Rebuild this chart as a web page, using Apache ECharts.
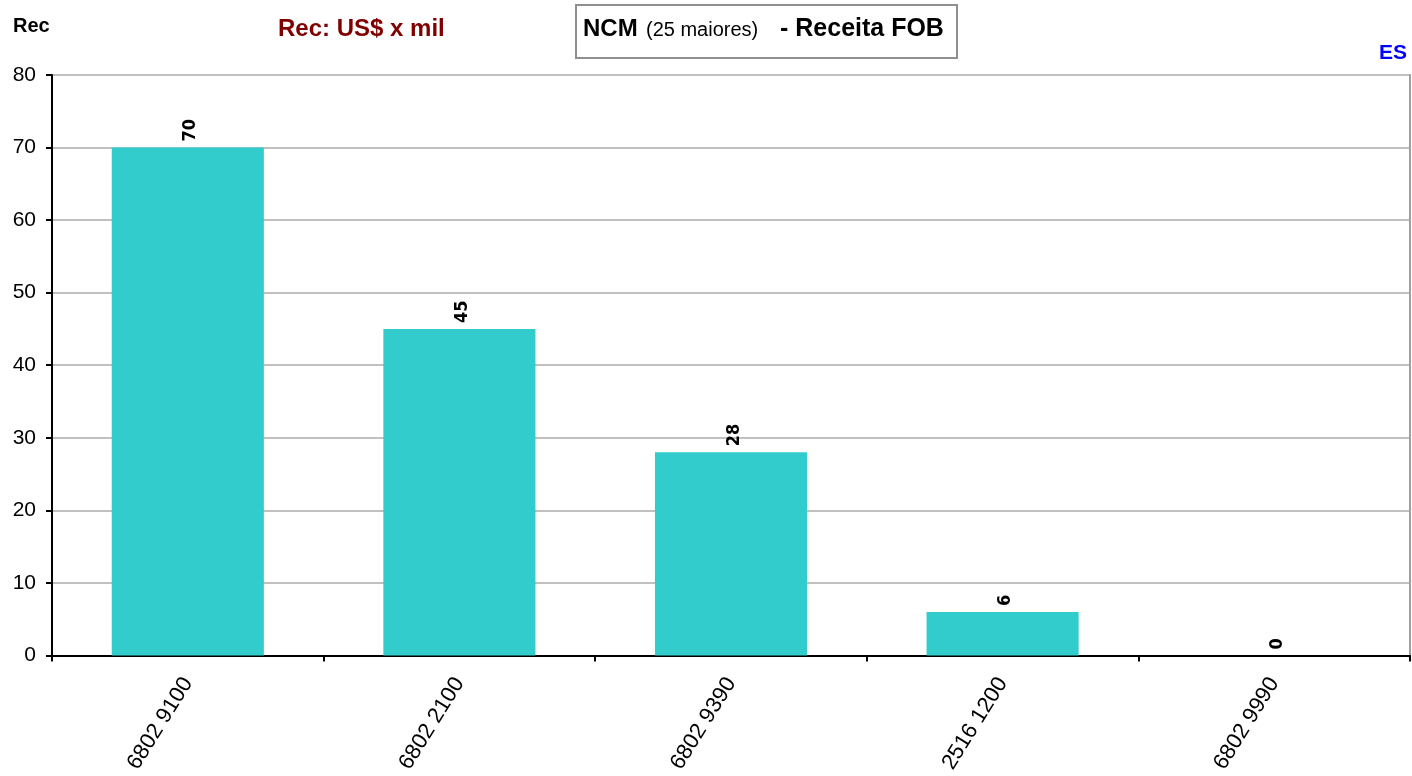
<!DOCTYPE html>
<html>
<head>
<meta charset="utf-8">
<script src="https://cdn.jsdelivr.net/npm/echarts@6/dist/echarts.min.js"></script>
<style>
  html, body { margin: 0; padding: 0; background: #fff; }
  #chart { width: 1412px; height: 776px; }
</style>
</head>
<body>
<div id="chart"></div>
<script>
// dados
const categories = ['6802 9100', '6802 2100', '6802 9390', '2516 1200', '6802 9990'];
const receita = [70, 45, 28, 6, 0];
const yTicks = [0, 10, 20, 30, 40, 50, 60, 70, 80];

const font = '"Liberation Sans", Arial, sans-serif';
const myChart = echarts.init(document.getElementById('chart'));

const option = {
    animation: false,
    grid: {
        left: 52,
        right: 2,
        top: 75,
        bottom: 119,
        containLabel: false
    },
    xAxis: {
        type: 'category',
        data: categories,
        axisLine: { lineStyle: { color: '#000', width: 2 } },
        axisTick: { show: true, inside: false, length: 6, lineStyle: { color: '#000', width: 2 } },
        axisLabel: {
            rotate: 58,
            margin: 24,
            color: '#000',
            fontFamily: font,
            fontSize: 22
        },
        splitLine: { show: false }
    },
    yAxis: [{
        type: 'value',
        min: yTicks[0],
        max: yTicks[yTicks.length - 1],
        interval: 10,
        axisLine: { show: true, lineStyle: { color: '#000', width: 2 } },
        axisTick: { show: true, length: 6, lineStyle: { color: '#000', width: 2 } },
        axisLabel: {
            color: '#000',
            fontFamily: font,
            fontSize: 21,
            margin: 16
        },
        splitLine: { show: true, lineStyle: { color: '#c0c0c0', width: 2 } }
    }, {
        type: 'value',
        position: 'right',
        min: 0,
        max: 80,
        interval: 10,
        axisLine: { show: true, lineStyle: { color: '#a0a0a0', width: 2 } },
        axisTick: { show: false },
        axisLabel: { show: false },
        splitLine: { show: false }
    }],
    series: [{
        type: 'bar',
        data: receita,
        barWidth: '56%',
        itemStyle: { color: '#33CCCC' },
        label: {
            show: true,
            position: 'top',
            rotate: 90,
            distance: 8,
            offset: [-2, 3],
            align: 'left',
            verticalAlign: 'middle',
            color: '#000',
            fontFamily: '"DejaVu Sans Condensed", "DejaVu Sans", sans-serif',
            fontWeight: 'bold',
            fontSize: 18
        }
    }],
    graphic: [
        {
            type: 'text', left: 13, top: 16,
            style: { text: 'Rec', font: 'bold 20px ' + font, fill: '#000' }
        },
        {
            type: 'text', left: 278, top: 17,
            style: { text: 'Rec: US$ x mil', font: 'bold 24px ' + font, fill: '#800000' }
        },
        {
            type: 'text', right: 5, top: 43,
            style: { text: 'ES', font: 'bold 21px ' + font, fill: '#0000ff' }
        },
        {
            type: 'rect', left: 575, top: 4,
            shape: { width: 381, height: 53 },
            style: { fill: '#fff', stroke: '#909090', lineWidth: 2 }
        },
        {
            type: 'text', left: 583, top: 17,
            style: { text: 'NCM', font: 'bold 24px ' + font, fill: '#000' }
        },
        {
            type: 'text', left: 646, top: 20,
            style: { text: '(25 maiores)', font: '20px ' + font, fill: '#000' }
        },
        {
            type: 'text', left: 780, top: 17,
            style: { text: '- Receita FOB', font: 'bold 25px ' + font, fill: '#000' }
        }
    ]
};
myChart.setOption(option);
window.addEventListener('resize', () => {
    myChart.resize();
});
</script>
</body>
</html>
